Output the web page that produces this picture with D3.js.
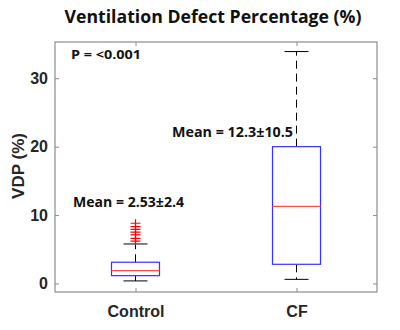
<!DOCTYPE html>
<html lang="en">
<head>
<meta charset="UTF-8">
<title>VDP</title>
<script src="https://cdn.jsdelivr.net/npm/d3@7/dist/d3.min.js"></script>
<style>
  body { margin: 0; background: #fff; }
</style>
</head>
<body>
<div id="main_container"></div>
<script>

    // data
    var categories = ["Control", "CF"];
    var whiskerLow = [0.37, 0.6];
    var q1 = [1.14, 2.8];
    var medians = [1.87, 11.27];
    var q3 = [3.1, 20.0];
    var whiskerHigh = [5.77, 33.9];
    var outliersControl = [6.2, 6.6, 7.1, 7.5, 7.9, 8.3, 8.8];
    var meanLabels = ["Mean = 2.53\u00b12.4", "Mean = 12.3\u00b110.5"];
    var yTicks = [0, 10, 20, 30];
    var pText = "P = <0.001";

    var svgWidth = 400, svgHeight = 330;
    // note: "top" is taken by window.top, so use plot* names
    var plotLeft = 55, plotRight = 377, plotTop = 42, plotBottom = 292;

    var svg = d3.select("#main_container").append("svg")
            .attr("width", svgWidth)
            .attr("height", svgHeight);

    var x = d3.scalePoint().domain(categories).range([plotLeft, plotRight]).padding(0.5);
    var y = d3.scaleLinear().domain([-1.25, 35.3]).range([plotBottom, plotTop]);

    var boxW = 48, capW = 24;
    var axisColor = "#8c8c8c";
    var labelFont = "'Liberation Sans', Arial, sans-serif";
    var calFont = "'Open Sans', 'Noto Sans', sans-serif";

    // title
    svg.append("text")
        .attr("x", 213).attr("y", 22.5)
        .attr("text-anchor", "middle")
        .attr("font-family", calFont)
        .attr("font-weight", "bold")
        .attr("font-size", 17)
        .attr("textLength", 297).attr("lengthAdjust", "spacingAndGlyphs")
        .attr("fill", "#111")
        .text("Ventilation Defect Percentage (%)");

    // frame
    svg.append("rect")
        .attr("x", plotLeft).attr("y", plotTop)
        .attr("width", plotRight - plotLeft).attr("height", plotBottom - plotTop)
        .attr("fill", "none").attr("stroke", axisColor).attr("stroke-width", 1.2);

    // y axis
    var yAxis = svg.append("g")
        .attr("transform", "translate(" + plotLeft + ",0)")
        .call(d3.axisLeft(y).tickValues(yTicks).tickSize(-4).tickPadding(7));
    yAxis.select(".domain").remove();
    yAxis.selectAll("line").attr("stroke", axisColor);
    yAxis.selectAll("text")
        .attr("font-family", labelFont).attr("font-weight", "bold")
        .attr("font-size", 16).attr("fill", "#262626");

    var yAxisR = svg.append("g")
        .attr("transform", "translate(" + plotRight + ",0)")
        .call(d3.axisRight(y).tickValues(yTicks).tickSize(-4).tickFormat(""));
    yAxisR.select(".domain").remove();
    yAxisR.selectAll("line").attr("stroke", axisColor);

    // x axis
    var xAxis = svg.append("g")
        .attr("transform", "translate(0," + plotBottom + ")")
        .call(d3.axisBottom(x).tickSize(-4).tickPadding(14));
    xAxis.select(".domain").remove();
    xAxis.selectAll("line").attr("stroke", axisColor);
    xAxis.selectAll("text")
        .attr("font-family", labelFont).attr("font-weight", "bold")
        .attr("font-size", 16).attr("fill", "#262626");

    var xAxisT = svg.append("g")
        .attr("transform", "translate(0," + plotTop + ")")
        .call(d3.axisTop(x).tickSize(-4).tickFormat(""));
    xAxisT.select(".domain").remove();
    xAxisT.selectAll("line").attr("stroke", axisColor);

    // y label
    svg.append("text")
        .attr("transform", "translate(24,166) rotate(-90)")
        .attr("text-anchor", "middle")
        .attr("font-family", labelFont).attr("font-weight", "bold")
        .attr("font-size", 17).attr("fill", "#262626")
        .text("VDP (%)");

    // boxes
    var g = svg.selectAll(".boxg").data(categories).enter().append("g").attr("class", "boxg");

    g.append("line")
        .attr("x1", function(d){ return x(d); }).attr("x2", function(d){ return x(d); })
        .attr("y1", function(d, i){ return y(q3[i]); })
        .attr("y2", function(d, i){ return y(whiskerHigh[i]); })
        .attr("stroke", "#000").attr("stroke-dasharray", "8,5");
    g.append("line")
        .attr("x1", function(d){ return x(d); }).attr("x2", function(d){ return x(d); })
        .attr("y1", function(d, i){ return y(q1[i]); })
        .attr("y2", function(d, i){ return y(whiskerLow[i]); })
        .attr("stroke", "#000").attr("stroke-dasharray", "8,5");
    g.append("line")
        .attr("x1", function(d){ return x(d) - capW / 2; }).attr("x2", function(d){ return x(d) + capW / 2; })
        .attr("y1", function(d, i){ return y(whiskerHigh[i]); })
        .attr("y2", function(d, i){ return y(whiskerHigh[i]); })
        .attr("stroke", "#000");
    g.append("line")
        .attr("x1", function(d){ return x(d) - capW / 2; }).attr("x2", function(d){ return x(d) + capW / 2; })
        .attr("y1", function(d, i){ return y(whiskerLow[i]); })
        .attr("y2", function(d, i){ return y(whiskerLow[i]); })
        .attr("stroke", "#000");
    g.append("rect")
        .attr("x", function(d){ return x(d) - boxW / 2; })
        .attr("y", function(d, i){ return y(q3[i]); })
        .attr("width", boxW)
        .attr("height", function(d, i){ return y(q1[i]) - y(q3[i]); })
        .attr("fill", "#fff").attr("stroke", "#3333ff").attr("stroke-width", 1.2);
    g.append("line")
        .attr("x1", function(d){ return x(d) - boxW / 2; }).attr("x2", function(d){ return x(d) + boxW / 2; })
        .attr("y1", function(d, i){ return y(medians[i]); })
        .attr("y2", function(d, i){ return y(medians[i]); })
        .attr("stroke", "#ff4d4d").attr("stroke-width", 1.2);

    // outliers
    svg.selectAll(".out").data(outliersControl).enter().append("path")
        .attr("class", "out")
        .attr("d", function(d){
            var cx = x(categories[0]), cy = y(d);
            return "M" + (cx - 5) + "," + cy + "H" + (cx + 5) + "M" + cx + "," + (cy - 4) + "V" + (cy + 4);
        })
        .attr("stroke", "#ff0000").attr("stroke-width", 1.2).attr("fill", "none");

    // annotations
    svg.append("text")
        .attr("x", 71).attr("y", 59)
        .attr("font-family", calFont).attr("font-weight", "bold")
        .attr("font-size", 13).attr("fill", "#111")
        .attr("textLength", 70).attr("lengthAdjust", "spacingAndGlyphs")
        .text(pText);
    svg.append("text")
        .attr("x", 73).attr("y", 207)
        .attr("font-family", calFont).attr("font-weight", "bold")
        .attr("font-size", 14).attr("fill", "#111")
        .attr("textLength", 111).attr("lengthAdjust", "spacingAndGlyphs")
        .text(meanLabels[0]);
    svg.append("text")
        .attr("x", 172).attr("y", 137)
        .attr("font-family", calFont).attr("font-weight", "bold")
        .attr("font-size", 14).attr("fill", "#111")
        .attr("textLength", 121).attr("lengthAdjust", "spacingAndGlyphs")
        .text(meanLabels[1]);
</script>
</body>
</html>
